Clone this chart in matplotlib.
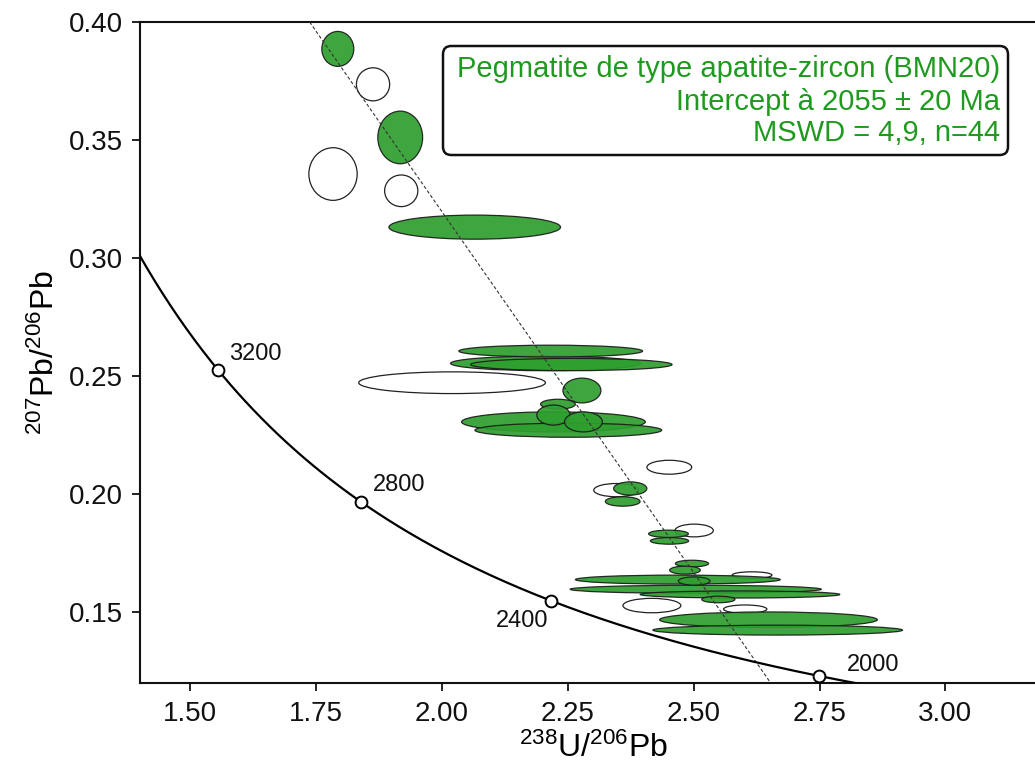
import numpy as np
import matplotlib
matplotlib.use("Agg")
import matplotlib.pyplot as plt
from matplotlib.patches import Ellipse, FancyBboxPatch

# ---------------- data ----------------
# Ellipses used in the regression (filled): centre x, centre y, full width, full height
fit_x = [2.065, 2.2056, 2.257, 2.216, 2.2214, 2.251, 2.6486, 2.667, 2.5041, 2.592, 2.4685,
         1.917, 1.793, 2.278, 2.2304, 2.2214, 2.281, 2.374, 2.359, 2.450, 2.452,
         2.4966, 2.4828, 2.501, 2.549]
fit_y = [0.3131, 0.2554, 0.2549, 0.2606, 0.2306, 0.2271, 0.1468, 0.1424, 0.1597, 0.1575, 0.1638,
         0.3511, 0.3886, 0.2439, 0.2381, 0.2335, 0.2306, 0.2024, 0.1969, 0.1832, 0.1802,
         0.1706, 0.1678, 0.1632, 0.1554]
fit_w = [0.341, 0.377, 0.400, 0.365, 0.365, 0.371, 0.4325, 0.496, 0.499, 0.397, 0.407,
         0.089, 0.0635, 0.0754, 0.069, 0.066, 0.075, 0.066, 0.069, 0.079, 0.076,
         0.066, 0.061, 0.063, 0.066]
fit_h = [0.0102, 0.0062, 0.0052, 0.0050, 0.0085, 0.0060, 0.0066, 0.0042, 0.0034, 0.0030, 0.0038,
         0.0223, 0.0148, 0.0105, 0.0042, 0.0085, 0.0085, 0.0056, 0.0040, 0.0031, 0.0028,
         0.0028, 0.0034, 0.0035, 0.0028]

# Rejected analyses (open ellipses)
rej_x = [1.863, 1.7835, 1.919, 2.020, 2.4516, 2.346, 2.501, 2.616, 2.417, 2.6024]
rej_y = [0.3736, 0.3356, 0.3285, 0.2472, 0.2114, 0.2017, 0.1846, 0.1657, 0.1528, 0.1513]
rej_w = [0.066, 0.096, 0.066, 0.371, 0.089, 0.089, 0.076, 0.079, 0.115, 0.086]
rej_h = [0.0140, 0.0223, 0.0134, 0.0092, 0.0059, 0.0056, 0.0054, 0.0028, 0.0061, 0.0035]

# Concordia age markers (Ma)
marker_ages = [2000, 2400, 2800, 3200]
# Discordia line end points
disc_x = [1.737, 2.653]
disc_y = [0.400, 0.120]

x_ticks = [1.50, 1.75, 2.00, 2.25, 2.50, 2.75, 3.00]
x_ticklabels = ["1.50", "1.75", "2.00", "2.25", "2.50", "2.75", "3.00"]
y_ticks = [0.15, 0.20, 0.25, 0.30, 0.35, 0.40]
y_ticklabels = ["0.15", "0.20", "0.25", "0.30", "0.35", "0.40"]

info_lines = ["Pegmatite de type apatite-zircon (BMN20)",
              "Intercept à 2055 ± 20 Ma",
              "MSWD = 4,9, n=44"]

# decay constants (per year) and U ratio for the Tera-Wasserburg concordia
L238 = 1.55125e-10
L235 = 9.8485e-10
U85 = 137.88


def tw(age_ma):
    t = np.asarray(age_ma, dtype=float) * 1e6
    e8 = np.exp(L238 * t) - 1
    e5 = np.exp(L235 * t) - 1
    return 1 / e8, e5 / e8 / U85


# ---------------- figure ----------------
plt.rcParams['font.family'] = ['Liberation Sans', 'DejaVu Sans']

W, H = 1035, 773
fig = plt.figure(figsize=(W / 100, H / 100), dpi=100)
fig.patch.set_facecolor('white')
ax = fig.add_axes([140 / W, (H - 683) / H, (1046 - 140) / W, (683 - 22) / H])
ax.set_xlim(1.4, 3.2)
ax.set_ylim(0.12, 0.40)

green = '#2e9f2e'
for x, y, w, h in zip(rej_x, rej_y, rej_w, rej_h):
    ax.add_patch(Ellipse((x, y), w, h, facecolor='none', edgecolor='#222222', lw=0.9, zorder=2))
for x, y, w, h in zip(fit_x, fit_y, fit_w, fit_h):
    ax.add_patch(Ellipse((x, y), w, h, facecolor=green, edgecolor='#1a1a1a', lw=0.9,
                         alpha=0.92, zorder=3))

# discordia
ax.plot(disc_x, disc_y, color='#333333', lw=0.8, ls=(0, (3, 2)), zorder=4)

# concordia
ages = np.linspace(1800, 3700, 400)
cx, cy = tw(ages)
ax.plot(cx, cy, color='black', lw=1.6, zorder=5)
mx, my = tw(marker_ages)
ax.plot(mx, my, 'o', ms=8.5, mfc='white', mec='black', mew=1.4, zorder=6, clip_on=False)
offsets = {2000: (20, 8, 'left'), 2400: (-2, -14.5, 'right'),
           2800: (8.5, 12, 'left'), 3200: (8, 11.5, 'left')}
for a, x, y in zip(marker_ages, mx, my):
    dx, dy, ha = offsets[a]
    ax.annotate(str(a), (x, y), xytext=(dx, dy), textcoords='offset points',
                ha=ha, va='center', fontsize=17, color='#111111', zorder=7)

# axes style
for s in ['top', 'bottom', 'left', 'right']:
    ax.spines[s].set_linewidth(1.5)
    ax.spines[s].set_color('#111111')
ax.set_xticks(x_ticks)
ax.set_xticklabels(x_ticklabels)
ax.set_yticks(y_ticks)
ax.set_yticklabels(y_ticklabels)
ax.tick_params(axis='both', direction='out', length=6, width=1.3, labelsize=20,
               colors='#111111')
ax.tick_params(axis='x', pad=7)
ax.tick_params(axis='y', pad=6)

ax.set_xlabel(r'$\mathregular{^{238}U/^{206}Pb}$', fontsize=23, labelpad=4)
ax.set_ylabel(r'$\mathregular{^{207}Pb/^{206}Pb}$', fontsize=23, labelpad=6)

# info box
box = FancyBboxPatch((443 / W, 1 - 155 / H), (1008 - 443) / W, (155 - 46) / H,
                     boxstyle='round,pad=0,rounding_size=0.008', mutation_aspect=W / H,
                     transform=fig.transFigure, facecolor='white', edgecolor='#111111',
                     lw=1.8, zorder=10)
fig.patches.append(box)
baselines = [76.7, 109.5, 140.7]
for line, b in zip(info_lines, baselines):
    fig.text(1000 / W, 1 - b / H, line, ha='right', va='baseline', fontsize=21,
             color='#1f9a1f', zorder=11)

fig.savefig('out.png', dpi=100)
